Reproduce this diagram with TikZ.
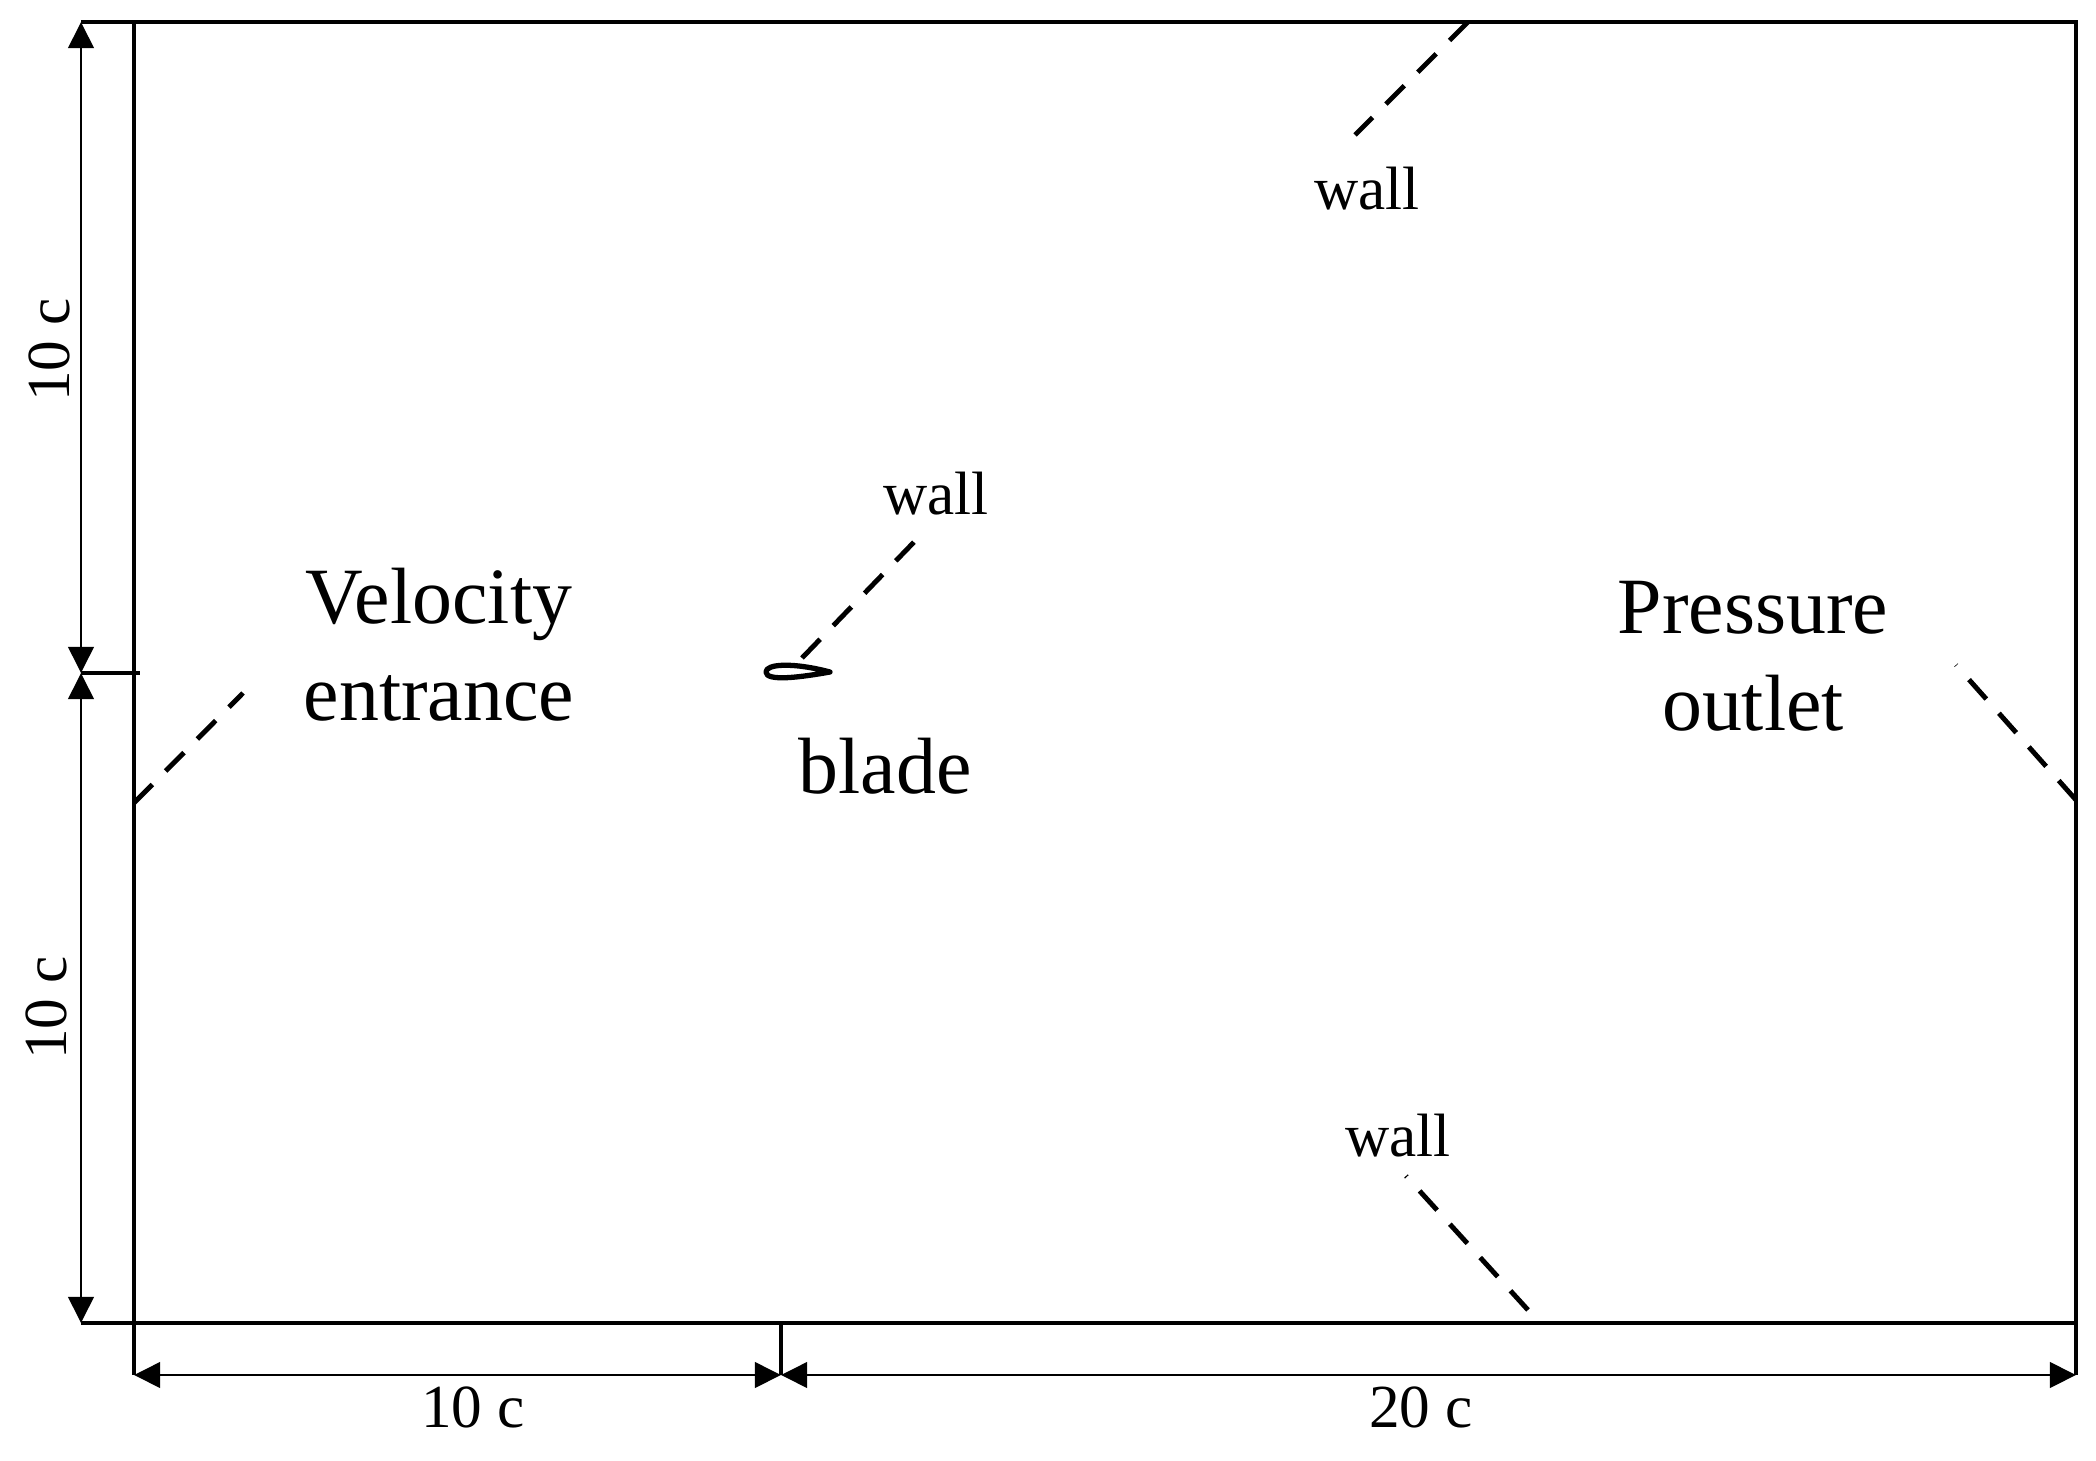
\documentclass[tikz,border=0pt]{standalone}
\usepackage{fontspec}
\setmainfont{Liberation Serif}
\usetikzlibrary{arrows.meta}

\tikzset{
    frameline/.style={line width=1.4pt},
    dimline/.style={line width=0.8pt, {Triangle[length=7.4pt,width=7.2pt]}-{Triangle[length=7.4pt,width=7.2pt]}},
    wallline/.style={line width=1.4pt, dash pattern=on 7.4pt off 5.4pt},
    biglabel/.style={font=\fontsize{22.7}{27.5}\selectfont, align=center},
    smalllabel/.style={font=\fontsize{17.4}{20}\selectfont, anchor=base}
}

\begin{document}
\begin{tikzpicture}[x=0.01cm, y=-0.01cm]
    \useasboundingbox (0,0) rectangle (2096,1461);

    % Domain corners
    \coordinate (topleft) at (134,22);
    \coordinate (topright) at (2076,22);
    \coordinate (botleft) at (134,1323);
    \coordinate (botright) at (2076,1323);

    % Ends of the dimension lines
    \coordinate (dimtop) at (81,22);
    \coordinate (dimmid) at (81,673);
    \coordinate (dimbot) at (81,1323);
    \coordinate (midtick) at (140,673);
    \coordinate (dimleft) at (134,1375);
    \coordinate (dimblade) at (781,1375);
    \coordinate (dimright) at (2076,1375);
    \coordinate (bladetick) at (781,1323);

    % Domain
    \draw[frameline] (topleft) -- (topright) -- (botright) -- (botleft) -- cycle;

    % Extension lines
    \draw[frameline] (dimtop) -- (topleft);
    \draw[frameline] (dimmid) -- (midtick);
    \draw[frameline] (dimbot) -- (botleft);
    \draw[frameline] (botleft) -- (dimleft);
    \draw[frameline] (bladetick) -- (dimblade);
    \draw[frameline] (botright) -- (dimright);

    % Dimensions
    \draw[dimline] (dimtop) -- (dimmid);
    \draw[dimline] (dimmid) -- (dimbot);
    \draw[dimline] (dimleft) -- (dimblade);
    \draw[dimline] (dimblade) -- (dimright);
    \node[smalllabel, rotate=90] (lenup) at (69,350) {10 c};
    \node[smalllabel, rotate=90] (lendown) at (66,1008) {10 c};
    \node[smalllabel] (lenfront) at (473,1427) {10 c};
    \node[smalllabel] (lenrear) at (1421,1427) {20 c};

    % Blade
    \draw[line width=1.5pt, line join=round] (766,672) .. controls (766,664) and (792,662) .. (830,672)
        .. controls (802,677) and (766,682) .. (766,672) -- cycle;
    \node[biglabel, anchor=base] (bladelabel) at (885,794) {blade};

    % Inlet and outlet
    \node[biglabel] (inlet) at (439,645) {Velocity\\entrance};
    \node[biglabel] (outlet) at (1753,656) {Pressure\\outlet};
    \coordinate (inletfoot) at (134,803);
    \coordinate (inlethead) at (243,693);
    \coordinate (outletfoot) at (2076,800);
    \coordinate (outlethead) at (1956,665);
    \draw[wallline] (inletfoot) -- (inlethead);
    \draw[wallline] (outletfoot) -- (outlethead);

    % Walls
    \node[smalllabel] (walltop) at (1367,210) {wall};
    \node[smalllabel] (wallblade) at (936,515) {wall};
    \node[smalllabel] (wallbot) at (1398,1156) {wall};
    \coordinate (walltopfoot) at (1468,22);
    \coordinate (walltophead) at (1355,135);
    \coordinate (wallbladefoot) at (802,658);
    \coordinate (wallbladehead) at (916,540);
    \coordinate (wallbotfoot) at (1528,1310);
    \coordinate (wallbothead) at (1406,1176);
    \draw[wallline] (walltopfoot) -- (walltophead);
    \draw[wallline] (wallbladefoot) -- (wallbladehead);
    \draw[wallline] (wallbotfoot) -- (wallbothead);
\end{tikzpicture}
\end{document}
